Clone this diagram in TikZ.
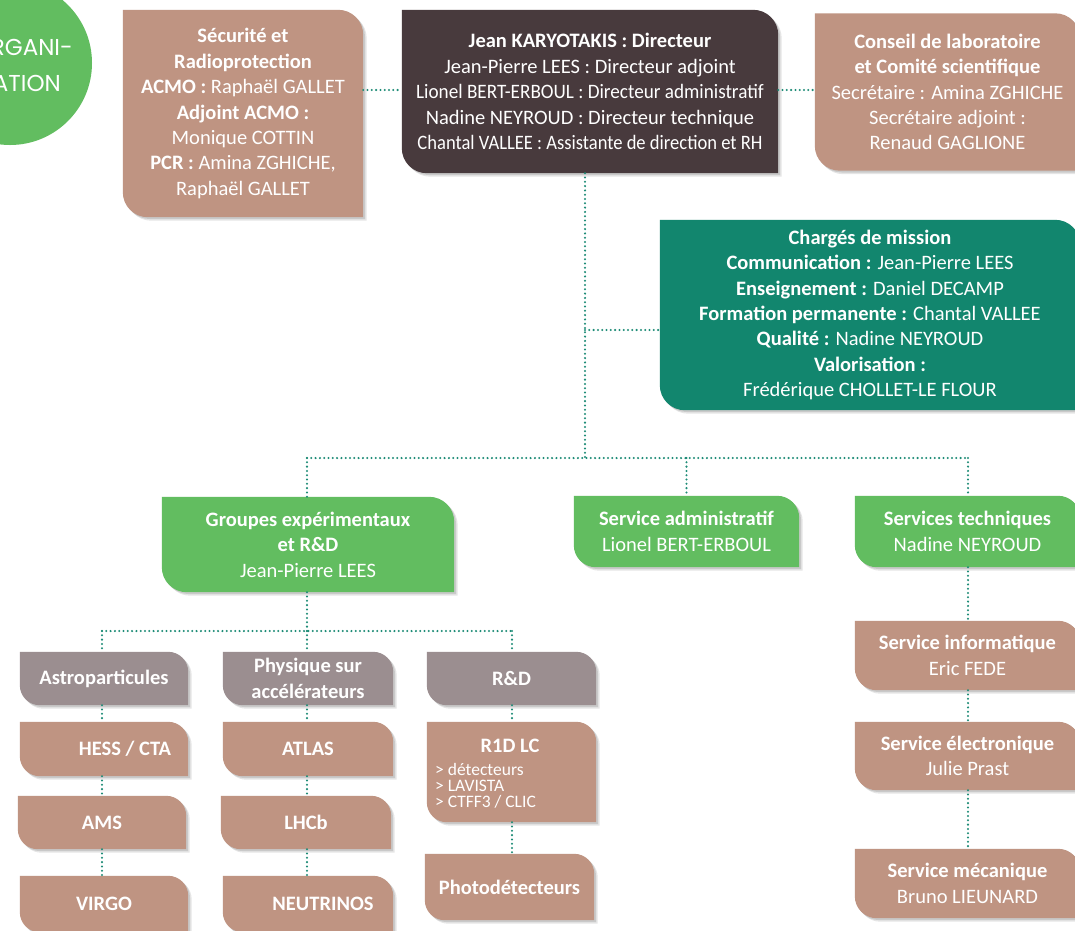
\documentclass[tikz,border=0pt]{standalone}
\usepackage{fontspec}
\usepackage{graphicx}
\setmainfont{Carlito}
\newfontfamily\logofont{Poppins}
\usetikzlibrary{calc,backgrounds}
\definecolor{brn}{HTML}{BF9482}
\definecolor{drk}{HTML}{483A3D}
\definecolor{tea}{HTML}{12866E}
\definecolor{grn}{HTML}{62BD60}
\definecolor{gry}{HTML}{9B8E90}
\definecolor{dotc}{HTML}{1E8C77}
% tab-shaped box: rounded top-right and bottom-left corners
\newcommand\tabfill[5]{%
 \fill[#5] ([xshift=#3,yshift=#4]#1.north west)
  -- ([xshift=#3-#2,yshift=#4]#1.north east)
  .. controls ([xshift=#3-0.448*#2,yshift=#4]#1.north east) and ([xshift=#3,yshift=#4-0.448*#2]#1.north east)
  .. ([xshift=#3,yshift=#4-#2]#1.north east)
  -- ([xshift=#3,yshift=#4]#1.south east)
  -- ([xshift=#3+#2,yshift=#4]#1.south west)
  .. controls ([xshift=#3+0.448*#2,yshift=#4]#1.south west) and ([xshift=#3,yshift=#4+0.448*#2]#1.south west)
  .. ([xshift=#3,yshift=#4+#2]#1.south west)
  -- cycle;}
\begin{document}
\begin{tikzpicture}[x=1pt,y=-1pt,
  box/.style={rectangle, inner sep=0pt, text=white, align=center, font=\fontsize{20.5}{25.4}\selectfont},
  conn/.style={draw=dotc, line width=2.3pt, line cap=round, dash pattern=on 0pt off 4.3pt},
  logotxt/.style={text=white, inner sep=0pt, anchor=east, font=\logofont\fontsize{23}{28}\selectfont}]
\useasboundingbox (0,0) rectangle (1075,930);

% logo
\node[circle, fill=grn, minimum size=164pt, inner sep=0pt] (logo) at (10,63) {};
\node[logotxt] (lg1) at (73,47) {ORGANI-};
\node[logotxt] (lg2) at (61,83) {SATION};

% top row
\node[box, minimum width=240pt, minimum height=207pt] (sec) at (243,113.5)
 {\textbf{Sécurité et}\\\textbf{Radioprotection}\\\textbf{ACMO :} Raphaël GALLET\\\textbf{Adjoint ACMO :}\\Monique COTTIN\\\textbf{PCR :} Amina ZGHICHE,\\Raphaël GALLET};
\node[box, minimum width=376pt, minimum height=163pt] (dir) at (590,91.5)
 {\textbf{Jean KARYOTAKIS : Directeur}\\Jean-Pierre LEES : Directeur adjoint\\\scalebox{0.935}[1]{Lionel BERT-ERBOUL : Directeur administratif}\\Nadine NEYROUD : Directeur technique\\\scalebox{0.905}[1]{Chantal VALLEE : Assistante de direction et RH}};
\node[box, minimum width=265pt, minimum height=157pt] (cons) at (947.5,92)
 {\textbf{Conseil de laboratoire}\\\textbf{et Comité scientifique}\\Secrétaire : Amina ZGHICHE\\Secrétaire adjoint :\\Renaud GAGLIONE};
\node[box, minimum width=420pt, minimum height=190pt] (cm) at (870,315)
 {\textbf{Chargés de mission}\\\textbf{Communication :} Jean-Pierre LEES\\\textbf{Enseignement :} Daniel DECAMP\\\textbf{Formation permanente :} Chantal VALLEE\\\textbf{Qualité :} Nadine NEYROUD\\\textbf{Valorisation :}\\Frédérique CHOLLET-LE FLOUR};

% second row
\node[box, minimum width=292pt, minimum height=95pt] (grp) at (308,544.5)
 {\textbf{Groupes expérimentaux}\\\textbf{et R\&D}\\Jean-Pierre LEES};
\node[box, minimum width=225pt, minimum height=71pt] (adm) at (686.5,531.5)
 {\textbf{Service administratif}\\Lionel BERT-ERBOUL};
\node[box, minimum width=225pt, minimum height=71pt] (tech) at (967.5,531.5)
 {\textbf{Services techniques}\\Nadine NEYROUD};

% technical services
\node[box, minimum width=225pt, minimum height=69pt] (info) at (967.5,655.5)
 {\textbf{Service informatique}\\Eric FEDE};
\node[box, minimum width=225pt, minimum height=68pt] (elec) at (967.5,756)
 {\textbf{Service électronique}\\Julie Prast};
\node[box, minimum width=225pt, minimum height=69pt] (mec) at (967.5,883.5)
 {\textbf{Service mécanique}\\Bruno LIEUNARD};

% groups
\node[box, minimum width=168pt, minimum height=53pt] (astro) at (104,678.5) {\textbf{Astroparticules}};
\node[box, minimum width=170pt, minimum height=53pt] (phys) at (308,678.5) {\textbf{Physique sur}\\\textbf{accélérateurs}};
\node[box, minimum width=169pt, minimum height=53pt] (rdg) at (511.5,678.5) {\textbf{R\&D}};
\node[box, minimum width=168pt, minimum height=54pt] (hess) at (104,749) {\textbf{\hspace*{42pt}HESS / CTA}};
\node[box, minimum width=170pt, minimum height=54pt] (atlas) at (308,749) {\textbf{ATLAS}};
\node[box, minimum width=169pt, minimum height=100pt] (r1d) at (511.5,772) {};
\node[text=white, inner sep=0pt, font=\fontsize{20.5}{25.4}\selectfont\bfseries] (r1dT) at (510,746) {R1D LC};
\node[text=white, inner sep=0pt, anchor=west, align=left, font=\fontsize{17.5}{16}\selectfont] (r1dL) at (435,786) {> détecteurs\\> LAVISTA\\> CTFF3 / CLIC};
\node[box, minimum width=168pt, minimum height=53pt] (ams) at (102,822.5) {\textbf{AMS}};
\node[box, minimum width=170pt, minimum height=53pt] (lhcb) at (306,822.5) {\textbf{LHCb}};
\node[box, minimum width=169pt, minimum height=66pt] (photo) at (509.5,887) {\textbf{Photodétecteurs}};
\node[box, minimum width=168pt, minimum height=56pt] (virgo) at (104,904) {\textbf{VIRGO}};
\node[box, minimum width=170pt, minimum height=56pt] (neut) at (308,904) {\textbf{\hspace*{30pt}NEUTRINOS}};

% backgrounds
\begin{scope}[on background layer]
\fill[white] (0,0) rectangle (1075,930);
\foreach \n/\c/\r in {sec/brn/25pt, dir/drk/25pt, cons/brn/25pt, cm/tea/25pt,
  grp/grn/25pt, adm/grn/22pt, tech/grn/22pt, info/brn/22pt, elec/brn/22pt, mec/brn/22pt,
  astro/gry/20pt, phys/gry/20pt, rdg/gry/20pt, hess/brn/20pt, atlas/brn/20pt, r1d/brn/20pt,
  ams/brn/20pt, lhcb/brn/20pt, photo/brn/20pt, virgo/brn/20pt, neut/brn/20pt}{
  \tabfill{\n}{\r}{3.5pt}{-3.5pt}{black,opacity=0.10}
  \tabfill{\n}{\r}{1.8pt}{-1.8pt}{black,opacity=0.12}
  \tabfill{\n}{\r}{0pt}{0pt}{\c}
}
\end{scope}

% connectors
\coordinate (h1) at (0,90);
\draw[conn] (sec.east |- h1) -- (dir.west |- h1);
\draw[conn] (dir.east |- h1) -- (cons.west |- h1);
\coordinate (vA) at (585,330);
\coordinate (vB) at (585,458);
\draw[conn] (dir.south -| vA) -- (vB);
\draw[conn] (vA) -- (cm.west |- vA);
\coordinate (bL) at (307,458);
\coordinate (bR) at (968,458);
\draw[conn] (bL) -- (bR);
\draw[conn] (bL) -- (grp.north -| bL);
\draw[conn] (adm.north |- bL) -- (adm.north);
\draw[conn] (bR) -- (tech.north -| bR);
\draw[conn] (tech.south -| bR) -- (info.north -| bR);
\draw[conn] (info.south -| bR) -- (elec.north -| bR);
\draw[conn] (elec.south -| bR) -- (mec.north -| bR);
\coordinate (cL) at (102,631);
\coordinate (cM) at (307,631);
\coordinate (cR) at (512,631);
\draw[conn] (grp.south -| cM) -- (cM);
\draw[conn] (cL) -- (cR);
\draw[conn] (cL) -- (astro.north -| cL);
\draw[conn] (cM) -- (phys.north -| cM);
\draw[conn] (cR) -- (rdg.north -| cR);
\draw[conn] (astro.south -| cL) -- (hess.north -| cL);
\draw[conn] (hess.south -| cL) -- (ams.north -| cL);
\draw[conn] (ams.south -| cL) -- (virgo.north -| cL);
\draw[conn] (phys.south -| cM) -- (atlas.north -| cM);
\draw[conn] (atlas.south -| cM) -- (lhcb.north -| cM);
\draw[conn] (lhcb.south -| cM) -- (neut.north -| cM);
\draw[conn] (rdg.south -| cR) -- (r1d.north -| cR);
\draw[conn] (r1d.south -| cR) -- (photo.north -| cR);
\end{tikzpicture}
\end{document}
